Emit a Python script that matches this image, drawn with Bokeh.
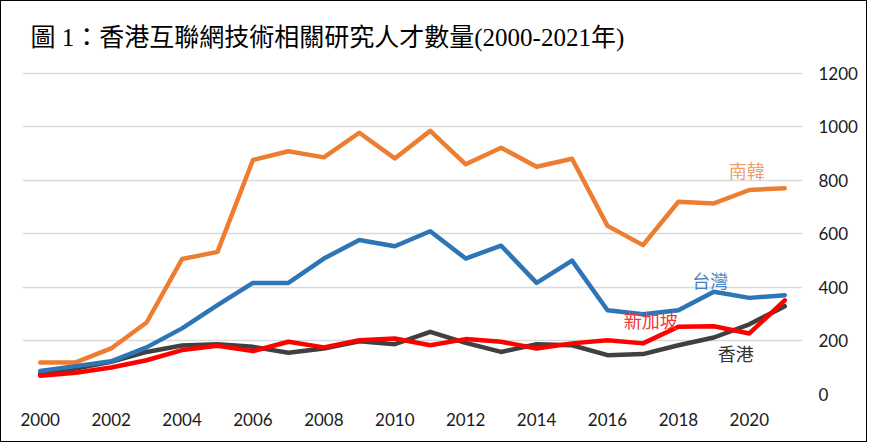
from bokeh.plotting import figure
from bokeh.models import Range1d, FixedTicker, Label
from bokeh.core.properties import value
from bokeh.embed import file_html
from bokeh.resources import INLINE

years = list(range(2000, 2022))
korea = [120, 120, 172, 269, 506, 533, 876, 909, 886, 978, 882, 985,
         860, 922, 851, 881, 630, 558, 720, 714, 764, 771]
taiwan = [88, 106, 124, 176, 247, 334, 417, 417, 508, 577, 554, 610,
          508, 556, 417, 500, 315, 300, 315, 384, 361, 371]
hongkong = [78, 97, 122, 159, 183, 188, 178, 156, 172, 199, 188, 234,
            193, 159, 188, 184, 147, 151, 184, 213, 262, 330]
singapore = [70, 81, 101, 128, 166, 182, 162, 197, 176, 203, 209, 184,
             207, 197, 172, 191, 203, 191, 253, 255, 228, 352]

x_ticks = list(range(2000, 2021, 2))
y_ticks = [0, 200, 400, 600, 800, 1000, 1200]

title_text = "圖 1：香港互聯網技術相關研究人才數量(2000-2021年)"
series_names = ["南韓", "台灣", "新加坡", "香港"]

SERIF = "Liberation Serif, Noto Sans CJK TC"

p = figure(width=867, height=442, output_backend="svg", toolbar_location=None,
           x_range=Range1d(1999.5, 2021.5), y_range=Range1d(0, 1203),
           y_axis_location="right",
           min_border_left=21, min_border_right=66,
           min_border_top=71, min_border_bottom=49)
p.styles = {"border": "1px solid #000000"}
p.outline_line_color = None
p.background_fill_color = "white"
p.border_fill_color = "white"

p.title.text = title_text
p.title.text_font = SERIF
p.title.text_font_size = "25px"
p.title.text_font_style = "normal"
p.title.text_color = "#000000"
p.title.align = "left"
p.title.vertical_align = "top"
p.title.offset = 8
p.title.standoff = 40

p.xgrid.visible = False
p.ygrid.ticker = FixedTicker(ticks=y_ticks)
p.ygrid.grid_line_color = "#D9D9D9"
p.ygrid.grid_line_width = 1.6

for ax in (p.xaxis[0], p.yaxis[0]):
    ax.axis_line_color = None
    ax.major_tick_line_color = None
    ax.minor_tick_line_color = None
    ax.major_tick_in = 0
    ax.major_tick_out = 0
    ax.minor_tick_in = 0
    ax.minor_tick_out = 0
    ax.major_label_text_font = "Lato"
    ax.major_label_text_font_size = "17px"
    ax.major_label_text_color = "#1a1a1a"

p.xaxis.ticker = FixedTicker(ticks=x_ticks)
p.xaxis.major_label_standoff = 18
p.yaxis.ticker = FixedTicker(ticks=y_ticks)
p.yaxis.major_label_standoff = 16

kw = dict(line_width=4.5, line_join="round", line_cap="round")
p.line(years, hongkong, line_color="#404040", **kw)
p.line(years, korea, line_color="#ED7D31", **kw)
p.line(years, taiwan, line_color="#2E75B6", **kw)
p.line(years, singapore, line_color="#FF0000", **kw)

label_specs = [
    (series_names[0], 2019.93, 831, "#F0A06A"),
    (series_names[1], 2018.90, 420, "#4A80BE"),
    (series_names[2], 2017.22, 270, "#F03A3A"),
    (series_names[3], 2019.62, 147, "#333333"),
]
for txt, lx, ly, col in label_specs:
    p.add_layout(Label(x=lx, y=ly, text=txt, text_font=SERIF,
                       text_font_size="18px", text_color=col,
                       text_align="center", text_baseline="middle"))

open("out.html", "w").write(file_html(p, INLINE))
